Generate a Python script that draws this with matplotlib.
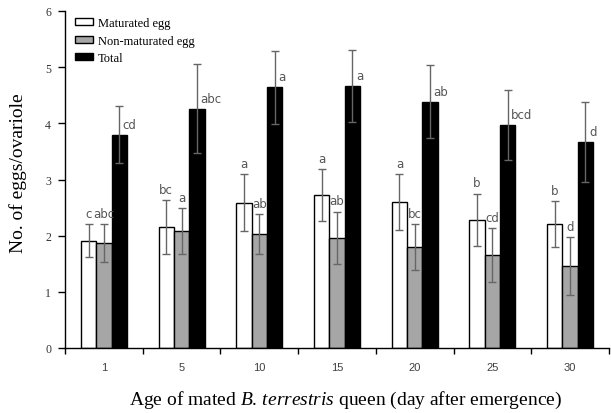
import matplotlib
matplotlib.use("Agg")
import matplotlib.pyplot as plt
import numpy as np

days = ["1", "5", "10", "15", "20", "25", "30"]
series_names = ["Maturated egg", "Non-maturated egg", "Total"]
maturated = [1.91, 2.16, 2.59, 2.72, 2.60, 2.28, 2.20]
maturated_err = [0.29, 0.48, 0.50, 0.46, 0.50, 0.47, 0.41]
nonmaturated = [1.87, 2.08, 2.03, 1.96, 1.79, 1.66, 1.46]
nonmaturated_err = [0.33, 0.41, 0.36, 0.47, 0.41, 0.48, 0.51]
total = [3.80, 4.26, 4.64, 4.67, 4.38, 3.97, 3.67]
total_err = [0.50, 0.79, 0.65, 0.64, 0.65, 0.63, 0.71]
letters_mat = ["c", "bc", "a", "a", "a", "b", "b"]
letters_non = ["abc", "a", "ab", "ab", "bc", "cd", "d"]
letters_tot = ["cd", "abc", "a", "a", "ab", "bcd", "d"]

plt.rcParams["font.family"] = ["Liberation Serif", "DejaVu Serif"]
plt.rcParams["mathtext.fontset"] = "custom"
plt.rcParams["mathtext.rm"] = "Liberation Serif"
plt.rcParams["mathtext.it"] = "Liberation Serif:italic"

fig = plt.figure(figsize=(6.11, 4.14), dpi=100)
ax = fig.add_axes([65/611, 1-349/414, (609-65)/611, (349-12)/414])

x = np.arange(len(days))
w = 0.197
colors = ["white", "#a6a6a6", "black"]
vals = [maturated, nonmaturated, total]
errs = [maturated_err, nonmaturated_err, total_err]
lets = [letters_mat, letters_non, letters_tot]
offs = [-w, 0, w]
for i in range(3):
    ax.bar(x + offs[i], vals[i], w, color=colors[i], edgecolor="black",
           linewidth=1.0, label=series_names[i], zorder=2)
    ax.errorbar(x + offs[i], vals[i], yerr=errs[i], fmt="none",
                ecolor="#666666", elinewidth=1.0, capsize=3, capthick=1.0, zorder=3)

for j in range(len(days)):
    for i in range(2):
        ax.annotate(lets[i][j], (x[j] + offs[i], vals[i][j] + errs[i][j]),
                    xytext=(0, 3), textcoords="offset points", ha="center", va="bottom",
                    fontsize=8.5, color="#555555", family="DejaVu Sans")
    ax.annotate(lets[2][j], (x[j] + offs[2], vals[2][j]),
                xytext=(2.5, 7.5), textcoords="offset points", ha="left", va="center",
                fontsize=8.5, color="#555555", family="DejaVu Sans")

ax.set_xlim(-0.5, len(days) - 0.5)
ax.set_ylim(0, 6)
ax.set_yticks(range(0, 7))
ax.tick_params(axis="y", direction="out", length=5, width=1, labelsize=8.5, pad=5,
               labelcolor="#333333")
ax.set_xticks(x)
ax.set_xticklabels(days, family="Liberation Sans", fontsize=8, color="#404040")
ax.set_xticks(np.arange(-0.5, len(days)), minor=True)
ax.tick_params(axis="x", which="major", length=0, pad=10)
ax.tick_params(axis="x", which="minor", direction="out", length=4, width=1)
for s in ["top", "right"]:
    ax.spines[s].set_visible(False)
for s in ["left", "bottom"]:
    ax.spines[s].set_linewidth(1.0)

fig.text(18/611, 1-173/414, "No. of eggs/ovariole", fontsize=14, rotation=90,
         ha="center", va="center")
fig.text(346/611, 1-400/414,
         r"Age of mated $\mathit{B}.\,\mathit{terrestris}$ queen (day after emergence)",
         fontsize=14, ha="center", va="center")

leg = ax.legend(loc="upper left", bbox_to_anchor=(75/611, 1-18/414),
                bbox_transform=fig.transFigure, frameon=False, fontsize=9,
                borderpad=0, borderaxespad=0, handlelength=1.45, handleheight=0.45,
                handletextpad=0.35, labelspacing=0.45)

fig.savefig("out.png", dpi=100)
